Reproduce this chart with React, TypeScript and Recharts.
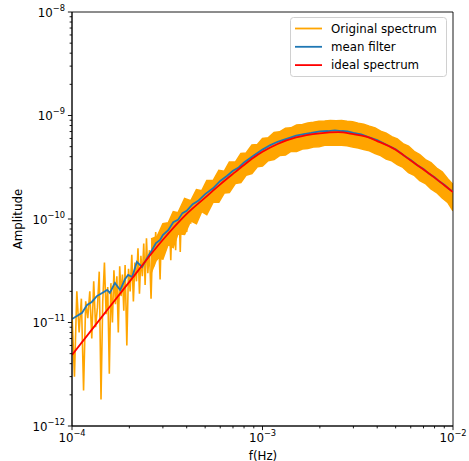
import React from "react"
import {
  ComposedChart,
  Line,
  Area,
  XAxis,
  YAxis,
  ReferenceArea,
} from "recharts"

// noisy spectrum, sparse low-frequency part (Hz, amplitude)
const ORIG_F = [
  1.00e-4, 1.03e-4, 1.06e-4, 1.09e-4, 1.12e-4, 1.15e-4, 1.18e-4, 1.21e-4, 1.24e-4, 1.27e-4,
  1.30e-4, 1.33e-4, 1.36e-4, 1.39e-4, 1.42e-4, 1.45e-4, 1.48e-4, 1.51e-4, 1.54e-4, 1.57e-4,
  1.60e-4, 1.63e-4, 1.66e-4, 1.69e-4, 1.72e-4, 1.75e-4, 1.78e-4, 1.81e-4, 1.84e-4, 1.87e-4,
  1.90e-4, 1.94e-4, 1.98e-4, 2.02e-4, 2.06e-4, 2.10e-4, 2.14e-4, 2.18e-4, 2.22e-4, 2.26e-4,
  2.30e-4, 2.34e-4, 2.38e-4, 2.42e-4, 2.46e-4, 2.50e-4, 2.55e-4, 2.60e-4, 2.65e-4, 2.70e-4,
  2.75e-4, 2.80e-4, 2.85e-4, 2.90e-4, 2.95e-4, 3.00e-4, 3.05e-4, 3.10e-4, 3.15e-4, 3.20e-4,
  3.25e-4, 3.30e-4, 3.35e-4, 3.40e-4, 3.45e-4, 3.50e-4, 3.55e-4, 3.60e-4, 3.65e-4, 3.70e-4,
  3.75e-4, 3.80e-4, 3.85e-4, 3.90e-4, 3.95e-4, 4.00e-4, 4.05e-4, 4.10e-4, 4.15e-4, 4.20e-4,
  4.25e-4, 4.30e-4, 4.35e-4, 4.40e-4, 4.45e-4, 4.50e-4, 4.55e-4, 4.60e-4, 4.65e-4, 4.70e-4,
  4.75e-4, 4.80e-4, 4.85e-4, 4.90e-4, 4.95e-4, 5.00e-4, 5.10e-4, 5.20e-4, 5.30e-4, 5.40e-4,
  5.50e-4, 5.60e-4, 5.70e-4, 5.80e-4, 5.90e-4, 6.00e-4, 6.10e-4, 6.20e-4, 6.30e-4, 6.40e-4,
  6.50e-4, 6.60e-4, 6.70e-4, 6.80e-4, 6.90e-4, 7.00e-4,
]
const ORIG_A = [
  1.2e-11, 3.0e-12, 2.0e-11, 8e-12, 1.7e-11, 2.2e-12, 1.6e-11, 1.1e-11, 2.0e-11, 7e-12,
  2.5e-11, 9e-12, 1.4e-11, 3.1e-11, 1.8e-12, 1.6e-11, 3.8e-11, 1.2e-11, 2.2e-11, 3.2e-12,
  2.4e-11, 1.0e-11, 3.2e-11, 1.5e-11, 2.8e-11, 8e-12, 3.5e-11, 1.8e-11, 2.9e-11, 1.3e-11,
  3.6e-11, 6e-12, 3.3e-11, 2.0e-11, 4.5e-11, 1.6e-11, 3.8e-11, 2.5e-11, 5.2e-11, 1.9e-11,
  4.4e-11, 2.8e-11, 5.8e-11, 2.3e-11, 6.5e-11, 3.0e-11, 5.0e-11, 1.7e-11, 6.0e-11, 3.5e-11,
  7.5e-11, 4.0e-11, 6.5e-11, 2.6e-11, 8.0e-11, 4.5e-11, 7.0e-11, 5.0e-11, 9.0e-11, 5.5e-11,
  8.5e-11, 4.0e-11, 9.5e-11, 6.0e-11, 1.0e-10, 5.0e-11, 1.1e-10, 7.0e-11, 1.2e-10, 4.8e-11,
  1.15e-10, 8.0e-11, 1.3e-10, 9.0e-11, 1.55e-10, 7.5e-11, 1.45e-10, 1.0e-10, 1.4e-10, 9.0e-11,
  1.5e-10, 1.1e-10, 1.6e-10, 1.0e-10, 1.55e-10, 1.2e-10, 1.75e-10, 1.05e-10, 1.7e-10, 1.3e-10,
  1.85e-10, 1.2e-10, 1.8e-10, 1.35e-10, 2.0e-10, 1.3e-10, 2.1e-10, 1.4e-10, 2.2e-10, 1.5e-10,
  2.3e-10, 1.6e-10, 2.4e-10, 1.65e-10, 2.55e-10, 1.7e-10, 2.6e-10, 1.8e-10, 2.7e-10, 1.9e-10,
  2.8e-10, 2.0e-10, 2.9e-10, 2.05e-10, 3.0e-10, 2.1e-10,
]

// noisy spectrum, dense part drawn as a low/high band
const BAND_F = [
  2.6e-4, 2.8e-4, 3.0e-4, 3.2e-4, 3.4e-4, 3.6e-4, 3.9e-4, 4.2e-4, 4.5e-4, 4.8e-4,
  5.1e-4, 5.5e-4, 5.9e-4, 6.3e-4, 6.7e-4, 7.2e-4, 7.7e-4, 8.2e-4, 8.8e-4, 9.4e-4,
  1.0e-3, 1.07e-3, 1.15e-3, 1.23e-3, 1.32e-3, 1.41e-3, 1.51e-3, 1.62e-3, 1.73e-3, 1.85e-3,
  1.98e-3, 2.12e-3, 2.27e-3, 2.43e-3, 2.6e-3, 2.78e-3, 2.97e-3, 3.18e-3, 3.4e-3, 3.64e-3,
  3.9e-3, 4.17e-3, 4.46e-3, 4.77e-3, 5.1e-3, 5.46e-3, 5.84e-3, 6.25e-3, 6.69e-3, 7.16e-3,
  7.66e-3, 8.2e-3, 8.77e-3, 9.38e-3, 1.0e-2,
]
const BAND_LO = [
  3.0e-11, 4.2e-11, 4.1e-11, 5.7e-11, 5.3e-11, 7.2e-11, 7.1e-11, 9.6e-11, 9.0e-11, 1.18e-10,
  1.1e-10, 1.45e-10, 1.45e-10, 1.78e-10, 1.8e-10, 2.2e-10, 2.25e-10, 2.65e-10, 2.75e-10, 3.2e-10,
  3.25e-10, 3.65e-10, 3.75e-10, 4.1e-10, 4.15e-10, 4.5e-10, 4.5e-10, 4.75e-10, 4.8e-10, 4.95e-10,
  5.0e-10, 5.15e-10, 5.15e-10, 5.2e-10, 5.15e-10, 5.1e-10, 4.95e-10, 4.85e-10, 4.7e-10, 4.55e-10,
  4.3e-10, 4.1e-10, 3.8e-10, 3.65e-10, 3.35e-10, 3.15e-10, 2.8e-10, 2.65e-10, 2.35e-10, 2.2e-10,
  1.95e-10, 1.8e-10, 1.6e-10, 1.45e-10, 1.2e-10,
]
const BAND_HI = [
  6.4e-11, 6.8e-11, 9.0e-11, 9.2e-11, 1.18e-10, 1.15e-10, 1.58e-10, 1.5e-10, 1.92e-10, 1.88e-10,
  2.35e-10, 2.35e-10, 2.95e-10, 2.9e-10, 3.55e-10, 3.55e-10, 4.3e-10, 4.35e-10, 5.2e-10, 5.25e-10,
  6.0e-10, 6.1e-10, 6.85e-10, 6.95e-10, 7.55e-10, 7.6e-10, 8.1e-10, 8.2e-10, 8.45e-10, 8.6e-10,
  8.8e-10, 8.85e-10, 8.95e-10, 8.9e-10, 8.95e-10, 8.8e-10, 8.7e-10, 8.4e-10, 8.25e-10, 7.9e-10,
  7.6e-10, 7.05e-10, 6.75e-10, 6.25e-10, 5.95e-10, 5.35e-10, 5.05e-10, 4.5e-10, 4.2e-10, 3.75e-10,
  3.5e-10, 3.1e-10, 2.85e-10, 2.45e-10, 2.15e-10,
]

// mean filter
const MEAN_F = [
  1.00e-4, 1.13e-4, 1.20e-4, 1.27e-4, 1.35e-4, 1.44e-4, 1.53e-4, 1.58e-4, 1.68e-4, 1.79e-4,
  1.90e-4, 1.97e-4, 2.07e-4, 2.19e-4, 2.33e-4, 2.48e-4, 2.63e-4, 2.76e-4, 2.90e-4, 3.0e-4,
  3.2e-4, 3.4e-4, 3.6e-4, 3.8e-4, 4.0e-4, 4.3e-4, 4.6e-4, 5.0e-4, 5.5e-4, 6.0e-4,
  6.5e-4, 7.0e-4, 7.5e-4, 8.0e-4, 9.0e-4, 1.0e-3, 1.1e-3, 1.2e-3, 1.3e-3, 1.4e-3,
  1.5e-3, 1.65e-3, 1.8e-3, 2.0e-3, 2.2e-3, 2.4e-3, 2.6e-3, 2.8e-3, 3.0e-3, 3.3e-3,
  3.6e-3, 4.0e-3, 4.5e-3, 5.0e-3, 5.5e-3, 6.0e-3, 6.5e-3, 7.0e-3, 7.5e-3, 8.0e-3,
  8.5e-3, 9.0e-3, 9.5e-3, 1.0e-2,
]
const MEAN_A = [
  1.08e-11, 1.24e-11, 1.48e-11, 1.58e-11, 1.80e-11, 1.93e-11, 2.06e-11, 1.93e-11, 2.41e-11, 2.06e-11,
  2.63e-11, 2.88e-11, 2.75e-11, 3.85e-11, 3.44e-11, 4.20e-11, 5.01e-11, 5.86e-11, 6.27e-11, 7.0e-11,
  7.8e-11, 9.3e-11, 9.8e-11, 1.14e-10, 1.2e-10, 1.39e-10, 1.5e-10, 1.74e-10, 1.98e-10, 2.33e-10,
  2.6e-10, 2.92e-10, 3.15e-10, 3.52e-10, 4.1e-10, 4.68e-10, 5.18e-10, 5.57e-10, 5.84e-10, 6.12e-10,
  6.38e-10, 6.62e-10, 6.78e-10, 7.02e-10, 7.08e-10, 7.18e-10, 7.08e-10, 7.02e-10, 6.78e-10, 6.58e-10,
  6.18e-10, 5.78e-10, 5.18e-10, 4.72e-10, 4.13e-10, 3.72e-10, 3.31e-10, 3.04e-10, 2.73e-10, 2.53e-10,
  2.3e-10, 2.14e-10, 1.96e-10, 1.83e-10,
]

// ideal spectrum
const IDEAL_F = [
  1e-4, 1.5e-4, 2e-4, 3e-4, 4e-4, 5e-4, 6e-4, 7e-4, 8e-4, 9e-4,
  1e-3, 1.2e-3, 1.5e-3, 2e-3, 2.5e-3, 3e-3, 3.5e-3, 4e-3, 5e-3, 6e-3,
  7e-3, 8e-3, 9e-3, 1e-2,
]
const IDEAL_A = [
  4.85e-12, 1.26e-11, 2.47e-11, 6.3e-11, 1.12e-10, 1.61e-10, 2.16e-10, 2.73e-10, 3.33e-10, 3.93e-10,
  4.46e-10, 5.31e-10, 6.14e-10, 6.73e-10, 6.9e-10, 6.6e-10, 6.24e-10, 5.66e-10, 4.66e-10, 3.67e-10,
  3.01e-10, 2.51e-10, 2.12e-10, 1.82e-10,
]

const X_TICKS = [
  1e-4, 2e-4, 3e-4, 4e-4, 5e-4, 6e-4, 7e-4, 8e-4, 9e-4,
  1e-3, 2e-3, 3e-3, 4e-3, 5e-3, 6e-3, 7e-3, 8e-3, 9e-3, 1e-2,
]
const Y_TICKS = [
  1e-12, 2e-12, 3e-12, 4e-12, 5e-12, 6e-12, 7e-12, 8e-12, 9e-12,
  1e-11, 2e-11, 3e-11, 4e-11, 5e-11, 6e-11, 7e-11, 8e-11, 9e-11,
  1e-10, 2e-10, 3e-10, 4e-10, 5e-10, 6e-10, 7e-10, 8e-10, 9e-10,
  1e-9, 2e-9, 3e-9, 4e-9, 5e-9, 6e-9, 7e-9, 8e-9, 9e-9, 1e-8,
]

const LEGEND = [
  { name: "Original spectrum", color: "#ffa500" },
  { name: "mean filter", color: "#1f77b4" },
  { name: "ideal spectrum", color: "#ff0000" },
]

const FONT = "DejaVu Sans"
const FS = 11.8

const origData = ORIG_F.map((f, i) => ({ f, a: ORIG_A[i] }))
const bandData = BAND_F.map((f, i) => ({ f, band: [BAND_LO[i], BAND_HI[i]] }))
const meanData = MEAN_F.map((f, i) => ({ f, a: MEAN_A[i] }))
const idealData = IDEAL_F.map((f, i) => ({ f, a: IDEAL_A[i] }))

function decade(v: number) {
  const l = Math.log10(v)
  const e = Math.round(l)
  return { e, major: Math.abs(l - e) < 1e-6 }
}

function XTick(props: any) {
  const { x, y, payload } = props
  const { e, major } = decade(payload.value)
  return (
    <g>
      <line x1={x} x2={x} y1={y} y2={y + (major ? 4.1 : 2.4)} stroke="#000" strokeWidth={0.9} />
      {major && (
        <text x={x} y={y + 16} textAnchor="middle" fontFamily={FONT} fontSize={FS} fill="#000">
          <tspan>10</tspan>
          <tspan dy={-6} fontSize={8.3}>{"\u2212" + Math.abs(e)}</tspan>
        </text>
      )}
    </g>
  )
}

function YTick(props: any) {
  const { x, y, payload } = props
  const { e, major } = decade(payload.value)
  return (
    <g>
      <line x1={x - (major ? 4.1 : 2.4)} x2={x} y1={y} y2={y} stroke="#000" strokeWidth={0.9} />
      {major && (
        <text x={x - 7} y={y + 4.5} textAnchor="end" fontFamily={FONT} fontSize={FS} fill="#000">
          <tspan>10</tspan>
          <tspan dy={-6} fontSize={8.3}>{"\u2212" + Math.abs(e)}</tspan>
        </text>
      )}
    </g>
  )
}

export default function App() {
  return (
    <div style={{ position: "absolute", left: 0, top: 0, width: 469, height: 461, background: "#fff" }}>
      <ComposedChart width={469} height={461} margin={{ top: 12, right: 16, bottom: 0, left: 0 }}>
        <XAxis
          dataKey="f"
          type="number"
          scale="log"
          domain={[1e-4, 1e-2]}
          ticks={X_TICKS}
          interval={0}
          allowDataOverflow
          height={35}
          tickLine={false}
          tickSize={0}
          tickMargin={0}
          tick={<XTick />}
          axisLine={{ stroke: "#000", strokeWidth: 0.9 }}
        />
        <YAxis
          type="number"
          scale="log"
          domain={[1e-12, 1e-8]}
          ticks={Y_TICKS}
          interval={0}
          allowDataOverflow
          width={72}
          tickLine={false}
          tickSize={0}
          tickMargin={0}
          tick={<YTick />}
          axisLine={{ stroke: "#000", strokeWidth: 0.9 }}
        />
        <Area
          data={bandData}
          dataKey="band"
          type="linear"
          fill="#ffa500"
          fillOpacity={1}
          stroke="#ffa500"
          strokeWidth={1.5}
          isAnimationActive={false}
        />
        <Line
          data={origData}
          dataKey="a"
          type="linear"
          stroke="#ffa500"
          strokeWidth={1.6}
          dot={false}
          isAnimationActive={false}
        />
        <Line
          data={meanData}
          dataKey="a"
          type="linear"
          stroke="#1f77b4"
          strokeWidth={1.8}
          dot={false}
          isAnimationActive={false}
        />
        <Line
          data={idealData}
          dataKey="a"
          type="monotone"
          stroke="#ff0000"
          strokeWidth={1.8}
          dot={false}
          isAnimationActive={false}
        />
        <ReferenceArea
          x1={1e-4}
          x2={1e-2}
          y1={1e-12}
          y2={1e-8}
          fill="none"
          stroke="#000"
          strokeWidth={0.9}
          ifOverflow="visible"
        />
      </ComposedChart>
      <svg width={469} height={461} style={{ position: "absolute", left: 0, top: 0, pointerEvents: "none" }}>
        <text x={263} y={460} textAnchor="middle" fontFamily={FONT} fontSize={FS} fill="#000">f(Hz)</text>
        <text transform="translate(21.5,219) rotate(-90)" textAnchor="middle" fontFamily={FONT} fontSize={FS} fill="#000">
          Amplitude
        </text>
        <rect x={290.5} y={17.5} width={156} height={59} rx={3} fill="#fff" fillOpacity={0.8} stroke="#d0d0d0" strokeWidth={1} />
        {LEGEND.map((item, i) => (
          <g key={i}>
            <line x1={295} x2={322} y1={28.5 + i * 18.3} y2={28.5 + i * 18.3} stroke={item.color} strokeWidth={1.8} />
            <text x={331} y={32.7 + i * 18.3} fontFamily={FONT} fontSize={FS} fill="#000">{item.name}</text>
          </g>
        ))}
      </svg>
    </div>
  )
}
